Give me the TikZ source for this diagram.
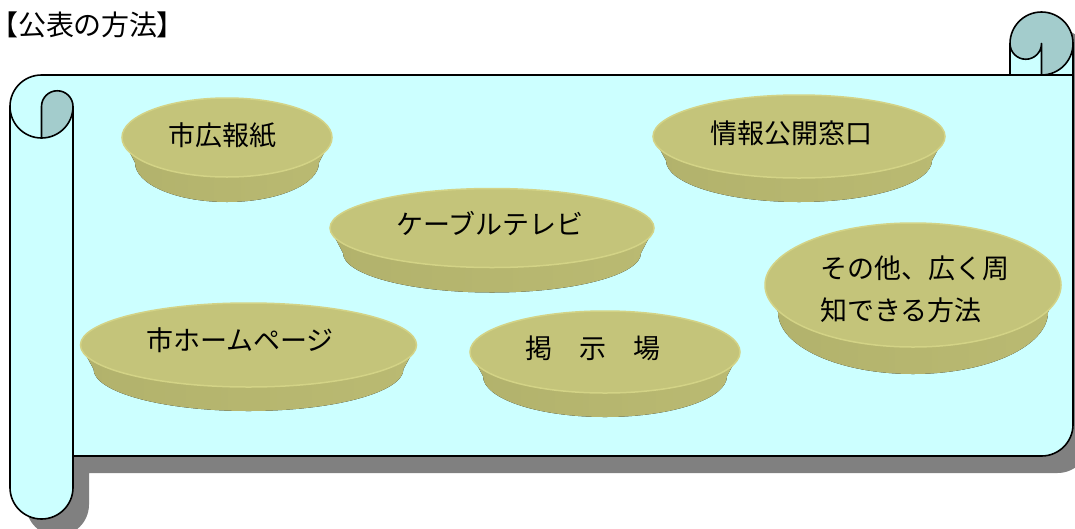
\documentclass[tikz,border=0pt]{standalone}
\usepackage{fontspec}
\newfontfamily\jpfont{Noto Sans CJK JP}
\newfontfamily\jppropfont[RawFeature=+palt]{Noto Sans CJK JP}
\usetikzlibrary{shapes.geometric}

\definecolor{scrollfill}{HTML}{CCFFFF}
\definecolor{curlfill}{HTML}{A3CCCC}
\definecolor{shadowgray}{HTML}{808080}
\definecolor{faceolive}{HTML}{C4C47A}
\definecolor{rimolive}{HTML}{D3D386}
\definecolor{sideleft}{HTML}{B2B26C}
\definecolor{sidemid}{HTML}{999958}
\definecolor{sideright}{HTML}{BABA72}

% one olive disc: name, centre x, centre y, x radius, y radius, thickness
\newcommand\olivedisc[6]{%
  \pgfmathsetmacro\dxl{#2-#4}%
  \pgfmathsetmacro\dxr{#2+#4}%
  \pgfmathsetmacro\dbx{#2-#4+13}%
  \pgfmathsetmacro\dbr{#4-13}%
  \pgfmathsetmacro\dby{#3+#6}%
  \fill[discside] (\dxl,#3) -- (\dbx,\dby)
     arc[start angle=180,end angle=0,x radius=\dbr,y radius=#5] -- (\dxr,#3) -- cycle;
  \node[discface,minimum width=2*#4,minimum height=2*#5] (#1) at (#2,#3) {};
}

% outer contour of the scroll
\def\scrollouter{(10,487.5) -- (10,106.5) arc[start angle=180,end angle=270,radius=31.5]
  -- (1010,75) -- (1010,43.5) arc[start angle=180,end angle=360,radius=31.5]
  -- (1073,424.5) arc[start angle=0,end angle=90,radius=31.5]
  -- (73,456) -- (73,487.5) arc[start angle=0,end angle=180,radius=31.5] -- cycle}

\begin{document}
\begin{tikzpicture}[x=1pt,y=-1pt,
  outline/.style={draw=black,line width=1.6pt,line join=round},
  discface/.style={ellipse,fill=faceolive,draw=rimolive,line width=1.5pt,inner sep=0pt},
  discside/.style={left color=sideleft,middle color=sidemid,right color=sideright},
  jptext/.style={font=\jpfont\fontsize{27}{42}\selectfont,text=black,inner sep=0pt},
  titletext/.style={font=\jppropfont\fontsize{28}{34}\selectfont,text=black,inner sep=0pt},
]
\useasboundingbox (0,0) rectangle (1075,528);

% drop shadow
\fill[shadowgray,shift={(16,17)}] \scrollouter;

% scroll body
\fill[scrollfill] \scrollouter;

% rolled-up curls
\fill[curlfill] (41.5,138) -- (41.5,106.5) arc[start angle=180,end angle=360,radius=15.75]
  arc[start angle=0,end angle=90,radius=31.5] -- cycle;
\fill[curlfill] (1010,43.5) arc[start angle=180,end angle=360,radius=31.5]
  arc[start angle=0,end angle=90,radius=31.5] -- (1041.5,43.5)
  arc[start angle=0,end angle=180,radius=15.75] -- cycle;

% contour lines
\draw[outline] \scrollouter;
\draw[outline] (41.5,138) -- (41.5,106.5) arc[start angle=180,end angle=360,radius=15.75]
  arc[start angle=0,end angle=180,radius=31.5];
\draw[outline] (73,106.5) -- (73,456);
\draw[outline] (1010,75) -- (1073,75);
\draw[outline] (1073,43.5) arc[start angle=0,end angle=90,radius=31.5] -- (1041.5,43.5)
  arc[start angle=0,end angle=180,radius=15.75];

% title
\node[titletext,anchor=west] (title) at (4,25) {【公表の方法】};

% discs
\olivedisc{d1}{227}{137.5}{105}{39.5}{25}
\olivedisc{d2}{492}{228}{162}{39.5}{25}
\olivedisc{d3}{605}{352}{135}{41}{24}
\olivedisc{d4}{799}{136.5}{146}{41.5}{24}
\olivedisc{d5}{913}{285}{148}{62}{27}
\olivedisc{d6}{248.5}{345}{168}{42}{24}

% labels
\node[jptext] (t1) at (222,135) {市広報紙};
\node[jptext] (t2) at (490,224) {ケーブルテレビ};
\node[jptext] (t3) at (593,348) {掲　示　場};
\node[jptext] (t4) at (791,133) {情報公開窓口};
\node[jptext,anchor=west,align=left] (t5) at (820,289) {その他、広く周\\知できる方法};
\node[jptext] (t6) at (240,340) {市ホームページ};
\end{tikzpicture}
\end{document}
